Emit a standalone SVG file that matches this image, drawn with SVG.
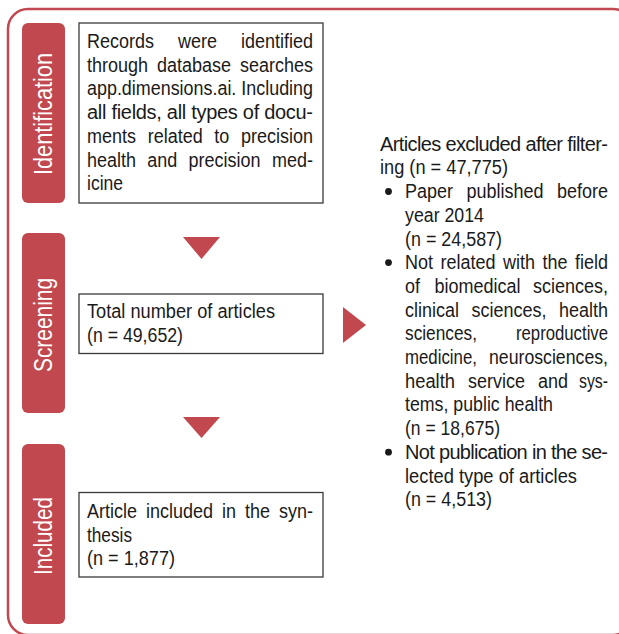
<svg xmlns="http://www.w3.org/2000/svg" width="619" height="634" viewBox="0 0 619 634">
<style>
.frame{fill:none;stroke:#C0484E;stroke-width:2.5}
.tab{fill:#C0484E}
.tabt{font-family:"Liberation Sans",Arial,sans-serif;font-size:26px;fill:#ffffff;text-anchor:middle}
.box{fill:#ffffff;stroke:#3a3a3a;stroke-width:1.3}
.t{font-family:"Liberation Sans",Arial,sans-serif;font-size:20px;fill:#1a1a1a}
.arr{fill:#C0484E}
.dot{fill:#1a1a1a}
</style>
<rect class="frame" x="8" y="9" width="625" height="626" rx="20"/>

<g id="tab-identification">
<rect class="tab" x="22" y="23" width="43" height="180" rx="6"/>
<text class="tabt" transform="translate(52,114) rotate(-90)" textLength="122" lengthAdjust="spacingAndGlyphs">Identification</text>
</g>
<g id="tab-screening">
<rect class="tab" x="22" y="233" width="43" height="180" rx="6"/>
<text class="tabt" transform="translate(52,325) rotate(-90)" textLength="94" lengthAdjust="spacingAndGlyphs">Screening</text>
</g>
<g id="tab-included">
<rect class="tab" x="22" y="444" width="43" height="180" rx="6"/>
<text class="tabt" transform="translate(52,536) rotate(-90)" textLength="78" lengthAdjust="spacingAndGlyphs">Included</text>
</g>

<g id="node-records">
<rect class="box" x="79" y="23" width="244" height="180"/>
<text class="t" y="48"><tspan x="87" textLength="67" lengthAdjust="spacingAndGlyphs">Records</tspan></text>
<text class="t" y="48"><tspan x="178" textLength="39" lengthAdjust="spacingAndGlyphs">were</tspan></text>
<text class="t" y="48"><tspan x="241" textLength="72" lengthAdjust="spacingAndGlyphs">identified</tspan></text>
<text class="t" y="71.7"><tspan x="87" textLength="61" lengthAdjust="spacingAndGlyphs">through</tspan></text>
<text class="t" y="71.7"><tspan x="157" textLength="74" lengthAdjust="spacingAndGlyphs">database</tspan></text>
<text class="t" y="71.7"><tspan x="240" textLength="73" lengthAdjust="spacingAndGlyphs">searches</tspan></text>
<text class="t" x="87" y="95.4" textLength="226" lengthAdjust="spacingAndGlyphs">app.dimensions.ai. Including</text>
<text class="t" x="87" y="119.1" textLength="226" lengthAdjust="spacing" transform="translate(0,0)">all fields, all types of docu-</text>
<text class="t" y="142.8"><tspan x="87" textLength="49" lengthAdjust="spacingAndGlyphs">ments</tspan></text>
<text class="t" y="142.8"><tspan x="147.7" textLength="55" lengthAdjust="spacingAndGlyphs">related</tspan></text>
<text class="t" y="142.8"><tspan x="214.3" textLength="15" lengthAdjust="spacingAndGlyphs">to</tspan></text>
<text class="t" y="142.8"><tspan x="241" textLength="72" lengthAdjust="spacingAndGlyphs">precision</tspan></text>
<text class="t" y="166.5"><tspan x="87" textLength="49" lengthAdjust="spacingAndGlyphs">health</tspan></text>
<text class="t" y="166.5"><tspan x="147.3" textLength="30" lengthAdjust="spacingAndGlyphs">and</tspan></text>
<text class="t" y="166.5"><tspan x="188.6" textLength="72" lengthAdjust="spacingAndGlyphs">precision</tspan></text>
<text class="t" y="166.5"><tspan x="272" textLength="41" lengthAdjust="spacingAndGlyphs">med-</tspan></text>
<text class="t" x="87" y="190.2" textLength="36" lengthAdjust="spacingAndGlyphs">icine</text>
</g>

<g id="node-total">
<rect class="box" x="79" y="294" width="244" height="59.5"/>
<text class="t" x="87" y="318" textLength="188" lengthAdjust="spacingAndGlyphs">Total number of articles</text>
<text class="t" x="87" y="341.7" textLength="96" lengthAdjust="spacingAndGlyphs">(n = 49,652)</text>
</g>

<g id="node-included">
<rect class="box" x="79" y="492.5" width="244" height="84.5"/>
<text class="t" y="518"><tspan x="87" textLength="50" lengthAdjust="spacingAndGlyphs">Article</tspan></text>
<text class="t" y="518"><tspan x="146" textLength="67" lengthAdjust="spacingAndGlyphs">included</tspan></text>
<text class="t" y="518"><tspan x="222" textLength="14" lengthAdjust="spacingAndGlyphs">in</tspan></text>
<text class="t" y="518"><tspan x="245" textLength="25" lengthAdjust="spacingAndGlyphs">the</tspan></text>
<text class="t" y="518"><tspan x="279" textLength="34" lengthAdjust="spacingAndGlyphs">syn-</tspan></text>
<text class="t" x="87" y="541.7" textLength="45" lengthAdjust="spacingAndGlyphs">thesis</text>
<text class="t" x="87" y="565.4" textLength="88" lengthAdjust="spacingAndGlyphs">(n = 1,877)</text>
</g>

<g id="node-excluded">
<text class="t" x="380" y="150.7" textLength="228" lengthAdjust="spacing">Articles excluded after filter-</text>
<text class="t" x="380" y="174.4" textLength="128" lengthAdjust="spacingAndGlyphs">ing (n = 47,775)</text>
<circle class="dot" cx="388.5" cy="191.5" r="3.4"/>
<text class="t" y="198.1"><tspan x="405" textLength="48" lengthAdjust="spacingAndGlyphs">Paper</tspan></text>
<text class="t" y="198.1"><tspan x="466.5" textLength="77" lengthAdjust="spacingAndGlyphs">published</tspan></text>
<text class="t" y="198.1"><tspan x="557" textLength="51" lengthAdjust="spacingAndGlyphs">before</tspan></text>
<text class="t" x="405" y="221.8" textLength="79" lengthAdjust="spacingAndGlyphs">year 2014</text>
<text class="t" x="405" y="245.5" textLength="97" lengthAdjust="spacingAndGlyphs">(n = 24,587)</text>
<circle class="dot" cx="388.5" cy="262.6" r="3.4"/>
<text class="t" y="269.2"><tspan x="405" textLength="28" lengthAdjust="spacingAndGlyphs">Not</tspan></text>
<text class="t" y="269.2"><tspan x="440.5" textLength="55" lengthAdjust="spacingAndGlyphs">related</tspan></text>
<text class="t" y="269.2"><tspan x="503" textLength="32" lengthAdjust="spacingAndGlyphs">with</tspan></text>
<text class="t" y="269.2"><tspan x="542.5" textLength="25" lengthAdjust="spacingAndGlyphs">the</tspan></text>
<text class="t" y="269.2"><tspan x="575" textLength="33" lengthAdjust="spacingAndGlyphs">field</tspan></text>
<text class="t" y="292.9"><tspan x="405" textLength="15" lengthAdjust="spacingAndGlyphs">of</tspan></text>
<text class="t" y="292.9"><tspan x="434.5" textLength="86" lengthAdjust="spacingAndGlyphs">biomedical</tspan></text>
<text class="t" y="292.9"><tspan x="533" textLength="75" lengthAdjust="spacingAndGlyphs">sciences,</tspan></text>
<text class="t" y="316.6"><tspan x="405" textLength="54" lengthAdjust="spacingAndGlyphs">clinical</tspan></text>
<text class="t" y="316.6"><tspan x="471.5" textLength="75" lengthAdjust="spacingAndGlyphs">sciences,</tspan></text>
<text class="t" y="316.6"><tspan x="559" textLength="49" lengthAdjust="spacingAndGlyphs">health</tspan></text>
<text class="t" y="340.3"><tspan x="405" textLength="72" lengthAdjust="spacingAndGlyphs">sciences,</tspan></text>
<text class="t" y="340.3"><tspan x="516" textLength="92" lengthAdjust="spacingAndGlyphs">reproductive</tspan></text>
<text class="t" y="364"><tspan x="405" textLength="72" lengthAdjust="spacingAndGlyphs">medicine,</tspan></text>
<text class="t" y="364"><tspan x="489" textLength="119" lengthAdjust="spacingAndGlyphs">neurosciences,</tspan></text>
<text class="t" y="387.7"><tspan x="405" textLength="50" lengthAdjust="spacingAndGlyphs">health</tspan></text>
<text class="t" y="387.7"><tspan x="468" textLength="57" lengthAdjust="spacingAndGlyphs">service</tspan></text>
<text class="t" y="387.7"><tspan x="538" textLength="30" lengthAdjust="spacingAndGlyphs">and</tspan></text>
<text class="t" y="387.7"><tspan x="579" textLength="29" lengthAdjust="spacingAndGlyphs">sys-</tspan></text>
<text class="t" x="405" y="411.4" textLength="148" lengthAdjust="spacingAndGlyphs">tems, public health</text>
<text class="t" x="405" y="435.1" textLength="95" lengthAdjust="spacingAndGlyphs">(n = 18,675)</text>
<circle class="dot" cx="388.5" cy="452.2" r="3.4"/>
<text class="t" x="405" y="458.8" textLength="203" lengthAdjust="spacing">Not publication in the se-</text>
<text class="t" x="405" y="482.5" textLength="172" lengthAdjust="spacingAndGlyphs">lected type of articles</text>
<text class="t" x="405" y="506.2" textLength="87" lengthAdjust="spacingAndGlyphs">(n = 4,513)</text>
</g>

<g id="connectors">
<polygon class="arr" points="183,237 220,237 201.5,259"/>
<polygon class="arr" points="183,417 220,417 201.5,438"/>
<polygon class="arr" points="343,307 343,343 366,325"/>
</g>
</svg>
